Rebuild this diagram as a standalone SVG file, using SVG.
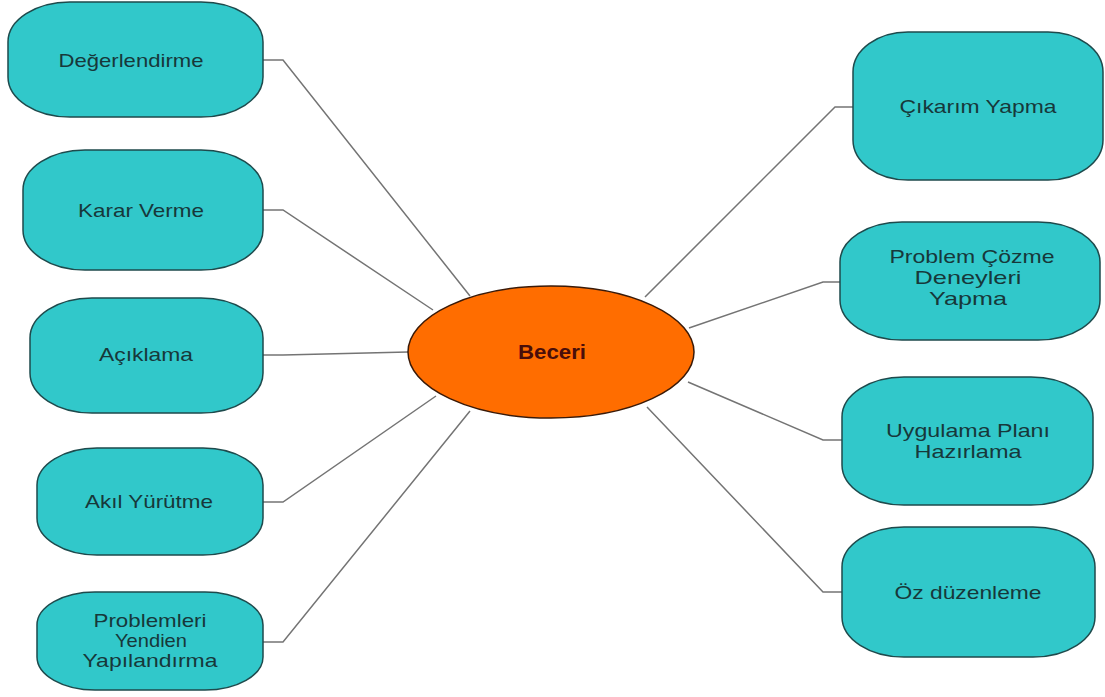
<svg xmlns="http://www.w3.org/2000/svg" width="1105" height="697" viewBox="0 0 1105 697">
<style>
.box{fill:#31c8ca;stroke:#1e4a4c;stroke-width:1.5}
.lbl{font-family:"Liberation Sans",Arial,sans-serif;font-size:19px;fill:#17383a;text-anchor:middle}
.conn{fill:none;stroke:#747474;stroke-width:1.5}
.center{fill:#ff6d00;stroke:#3a1a08;stroke-width:1.5}
.clbl{font-family:"Liberation Sans",Arial,sans-serif;font-size:20px;font-weight:bold;fill:#4a0e0a;text-anchor:middle}
</style>
<rect width="1105" height="697" fill="#ffffff"/>
<g id="connectors">
<polyline class="conn" points="263,60 283,60 470,296"/>
<polyline class="conn" points="263,210 283,210 433,310"/>
<polyline class="conn" points="263,355 283,355 408,352"/>
<polyline class="conn" points="263,502 283,502 436,396"/>
<polyline class="conn" points="263,642 283,642 470,411"/>
<polyline class="conn" points="853,107 835,107 645,297"/>
<polyline class="conn" points="840,282 823,282 689,328"/>
<polyline class="conn" points="842,440 823,440 688,382"/>
<polyline class="conn" points="842,592 823,592 647,407"/>
</g>
<g id="center">
<ellipse class="center" cx="551" cy="352" rx="143" ry="66"/>
<text class="clbl" x="552" y="359" textLength="68" lengthAdjust="spacingAndGlyphs">Beceri</text>
</g>
<g id="n-degerlendirme">
<rect class="box" x="8" y="2" width="255" height="115" rx="62" ry="40"/>
<text class="lbl" x="131" y="67" textLength="145" lengthAdjust="spacingAndGlyphs">Değerlendirme</text>
</g>
<g id="n-karar">
<rect class="box" x="23" y="150" width="240" height="120" rx="62" ry="40"/>
<text class="lbl" x="141" y="217" textLength="126" lengthAdjust="spacingAndGlyphs">Karar Verme</text>
</g>
<g id="n-aciklama">
<rect class="box" x="30" y="298" width="233" height="115" rx="62" ry="40"/>
<text class="lbl" x="146" y="361" textLength="94" lengthAdjust="spacingAndGlyphs">Açıklama</text>
</g>
<g id="n-akil">
<rect class="box" x="37" y="448" width="226" height="107" rx="60" ry="37"/>
<text class="lbl" x="149" y="508" textLength="128" lengthAdjust="spacingAndGlyphs">Akıl Yürütme</text>
</g>
<g id="n-problemleri">
<rect class="box" x="37" y="592" width="226" height="98" rx="58" ry="33"/>
<text class="lbl" x="150" y="627" textLength="113" lengthAdjust="spacingAndGlyphs">Problemleri</text>
<text class="lbl" x="151" y="647" textLength="72" lengthAdjust="spacingAndGlyphs">Yendien</text>
<text class="lbl" x="150" y="667" textLength="135" lengthAdjust="spacingAndGlyphs">Yapılandırma</text>
</g>
<g id="n-cikarim">
<rect class="box" x="853" y="32" width="250" height="148" rx="55" ry="40"/>
<text class="lbl" x="978" y="113" textLength="157" lengthAdjust="spacingAndGlyphs">Çıkarım Yapma</text>
</g>
<g id="n-problem-cozme">
<rect class="box" x="840" y="222" width="260" height="118" rx="62" ry="40"/>
<text class="lbl" x="972" y="263" textLength="165" lengthAdjust="spacingAndGlyphs">Problem Çözme</text>
<text class="lbl" x="968" y="284" textLength="107" lengthAdjust="spacingAndGlyphs">Deneyleri</text>
<text class="lbl" x="968" y="305" textLength="78" lengthAdjust="spacingAndGlyphs">Yapma</text>
</g>
<g id="n-uygulama">
<rect class="box" x="842" y="377" width="251" height="128" rx="62" ry="40"/>
<text class="lbl" x="968" y="437" textLength="164" lengthAdjust="spacingAndGlyphs">Uygulama Planı</text>
<text class="lbl" x="968" y="458" textLength="107" lengthAdjust="spacingAndGlyphs">Hazırlama</text>
</g>
<g id="n-oz">
<rect class="box" x="842" y="527" width="253" height="130" rx="62" ry="40"/>
<text class="lbl" x="968" y="599" textLength="147" lengthAdjust="spacingAndGlyphs">Öz düzenleme</text>
</g>
</svg>
